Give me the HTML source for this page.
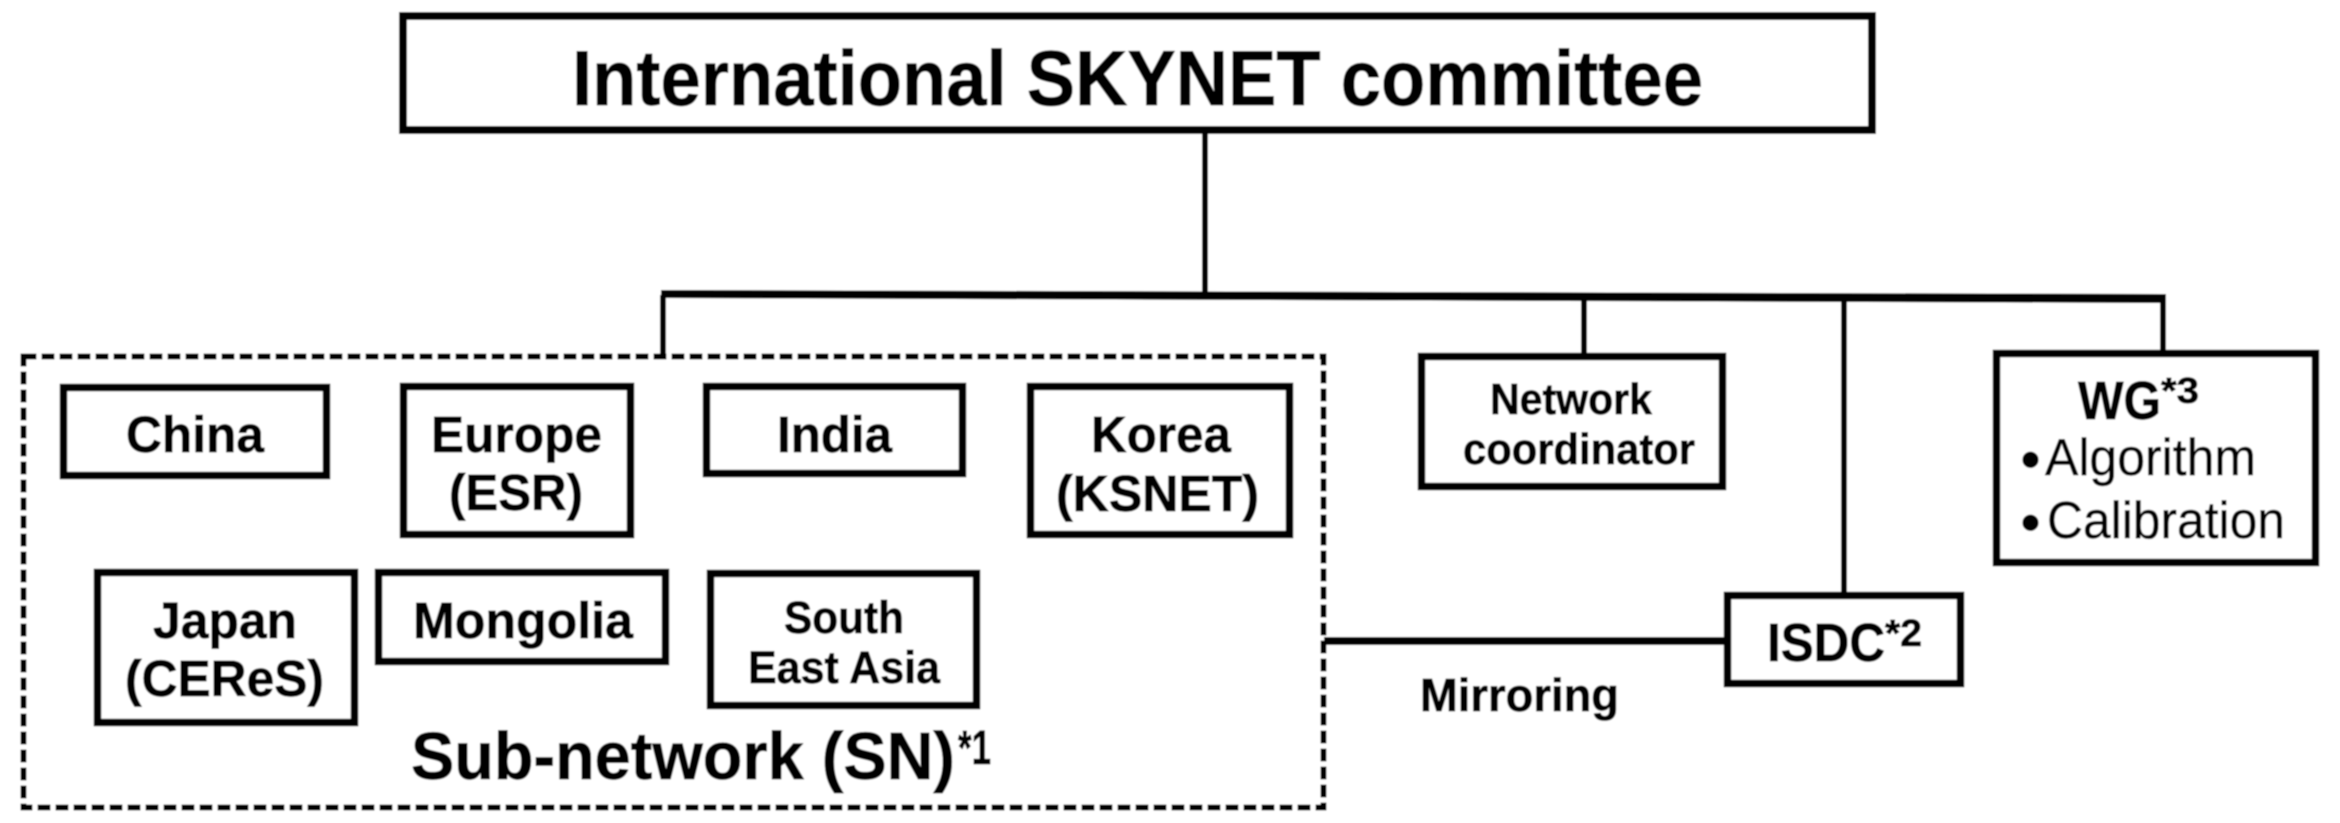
<!DOCTYPE html>
<html><head><meta charset="utf-8"><title>International SKYNET committee</title>
<style>
html,body{margin:0;padding:0;background:#fff;width:2340px;height:823px;overflow:hidden}
svg{display:block}
text{font-family:"Liberation Sans",sans-serif;fill:#000}
.b{font-weight:700;stroke:#000;stroke-width:0.7}
.r{stroke:#000;stroke-width:0.5}
.box{fill:#fff;stroke:#000;stroke-width:7.5}
</style></head><body>
<svg width="2340" height="823" viewBox="0 0 2340 823" xmlns="http://www.w3.org/2000/svg">
<defs><filter id="s" x="0" y="0" width="100%" height="100%"><feGaussianBlur stdDeviation="0.7"/></filter></defs>
<g filter="url(#s)">
<rect width="2340" height="823" fill="#fff"/>
<!-- connectors -->
<rect x="1202" y="130" width="6" height="165" fill="#000"/>
<polygon points="661,290 2166,294 2166,303 661,298" fill="#000"/>
<rect x="660" y="295" width="6" height="62" fill="#000"/>
<rect x="1581" y="298" width="6" height="58" fill="#000"/>
<rect x="1841" y="298" width="6" height="297" fill="#000"/>
<rect x="2160" y="298" width="6" height="55" fill="#000"/>
<rect x="1324" y="637" width="402" height="8" fill="#000"/>
<!-- dashed -->
<rect x="23.5" y="356.5" width="1300" height="451" fill="none" stroke="#000" stroke-width="6" stroke-dasharray="13 5"/>
<!-- boxes -->
<rect class="box" x="403" y="16" width="1469" height="114" style="stroke-width:8"/>
<rect class="box" x="63.5" y="387.5" width="263" height="88"/>
<rect class="box" x="403.5" y="386.5" width="227" height="148"/>
<rect class="box" x="706.5" y="386.5" width="256" height="87"/>
<rect class="box" x="1030.5" y="386.5" width="259" height="148"/>
<rect class="box" x="97.5" y="572.5" width="257" height="150"/>
<rect class="box" x="378.5" y="572.5" width="287" height="89"/>
<rect class="box" x="710.5" y="573.5" width="266" height="132"/>
<rect class="box" x="1421.5" y="356.5" width="301" height="130"/>
<rect class="box" x="1727.5" y="595.5" width="233" height="88"/>
<rect class="box" x="1996.5" y="353.5" width="319" height="209"/>
<!-- text -->
<text class="b" x="572" y="105" font-size="78" textLength="1131" lengthAdjust="spacingAndGlyphs">International SKYNET committee</text>
<text class="b" x="126" y="452" font-size="51" textLength="138" lengthAdjust="spacingAndGlyphs">China</text>
<text class="b" x="431" y="452" font-size="51" textLength="171" lengthAdjust="spacingAndGlyphs">Europe</text>
<text class="b" x="449" y="510" font-size="51" textLength="134" lengthAdjust="spacingAndGlyphs">(ESR)</text>
<text class="b" x="777" y="452" font-size="51" textLength="115" lengthAdjust="spacingAndGlyphs">India</text>
<text class="b" x="1091" y="452" font-size="51" textLength="140" lengthAdjust="spacingAndGlyphs">Korea</text>
<text class="b" x="1056" y="511" font-size="51" textLength="203" lengthAdjust="spacingAndGlyphs">(KSNET)</text>
<text class="b" x="153" y="638" font-size="51" textLength="144" lengthAdjust="spacingAndGlyphs">Japan</text>
<text class="b" x="125" y="696" font-size="51" textLength="199" lengthAdjust="spacingAndGlyphs">(CEReS)</text>
<text class="b" x="413" y="638" font-size="51" textLength="220" lengthAdjust="spacingAndGlyphs">Mongolia</text>
<text class="b" x="784" y="633" font-size="45" textLength="120" lengthAdjust="spacingAndGlyphs">South</text>
<text class="b" x="748" y="683" font-size="45" textLength="192" lengthAdjust="spacingAndGlyphs">East Asia</text>
<text class="b" x="411" y="779" font-size="67" textLength="544" lengthAdjust="spacingAndGlyphs">Sub-network (SN)</text>
<text class="b" x="958" y="764" font-size="48" textLength="33" lengthAdjust="spacingAndGlyphs">*1</text>
<text class="b" x="1490" y="414" font-size="44" textLength="162" lengthAdjust="spacingAndGlyphs">Network</text>
<text class="b" x="1463" y="464" font-size="44" textLength="232" lengthAdjust="spacingAndGlyphs">coordinator</text>
<text class="b" x="2078" y="419" font-size="54" textLength="83" lengthAdjust="spacingAndGlyphs">WG</text>
<text class="b" x="2161" y="403" font-size="36" textLength="38" lengthAdjust="spacingAndGlyphs">*3</text>
<text x="2020" y="480" font-size="60">•</text>
<text class="r" x="2045" y="475" font-size="52" textLength="211" lengthAdjust="spacingAndGlyphs">Algorithm</text>
<text x="2020" y="543" font-size="60">•</text>
<text class="r" x="2047" y="538" font-size="52" textLength="238" lengthAdjust="spacingAndGlyphs">Calibration</text>
<text class="b" x="1767" y="661" font-size="54" textLength="118" lengthAdjust="spacingAndGlyphs">ISDC</text>
<text class="b" x="1885" y="646" font-size="38" textLength="37" lengthAdjust="spacingAndGlyphs">*2</text>
<text class="b" x="1420" y="711" font-size="46" textLength="199" lengthAdjust="spacingAndGlyphs">Mirroring</text>
</g>
</svg>
</body></html>
